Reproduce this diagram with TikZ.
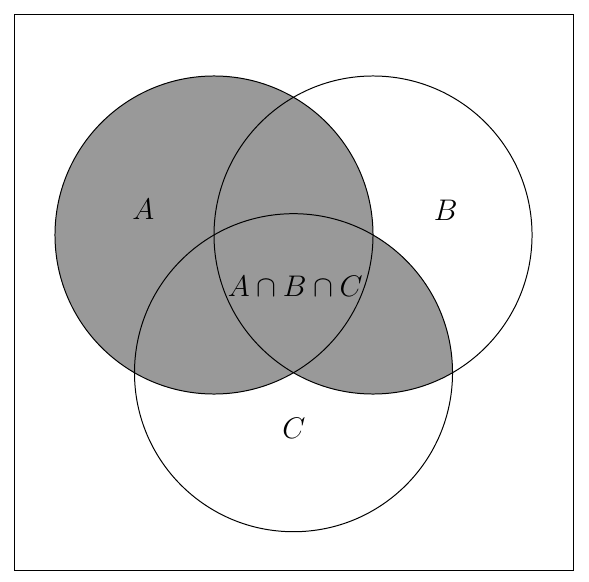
\documentclass[tikz,border=0pt]{standalone}
\usepackage{tikz}
\usetikzlibrary{calc}
\def\rad{2.25}

\begin{document}
\begin{tikzpicture}
		%%%%% START %%%%%
		
		\useasboundingbox (-3.028, -4.896) rectangle (5.306, 3.325);
		\draw (-2.816, -4.754) rectangle (5.08, 3.113);
		
		\coordinate (ca) at (0, 0);
		\coordinate (cb) at (\rad, 0);
		\coordinate (cc) at ($(ca)!0.5!(cb)+(0, -0.866*\rad)$);
		
		\fill[black!40] (ca) circle (\rad);
		\begin{scope}
			\clip (cb) circle (\rad);
			\fill[black!40] (cc) circle (\rad);
		\end{scope}
		
		\draw (ca) circle (\rad);
		\draw (cb) circle (\rad);
		\draw (cc) circle (\rad);
		
		\node[font=\fontsize{11.5}{14}\selectfont] (la) at (-1.0, 0.36) {$A$};
		\node[font=\fontsize{11.5}{14}\selectfont] (lb) at (3.28, 0.35) {$B$};
		\node[font=\fontsize{11.5}{14}\selectfont] (lc) at (1.13, -2.73) {$C$};
		\node[font=\fontsize{11.5}{14}\selectfont] (labc) at (1.15, -0.72) {$A\cap B\cap C$};
		
		%%%%% END %%%%%
	\end{tikzpicture}
\end{document}
